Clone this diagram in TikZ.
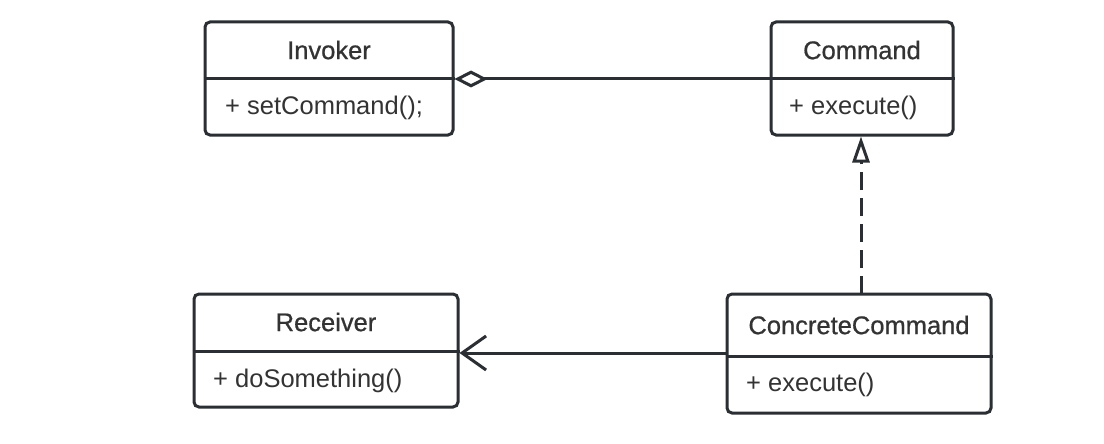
\documentclass[tikz,border=0pt]{standalone}
\usepackage{fontspec}
\setmainfont{Liberation Sans}
\newfontfamily\medfont[FakeBold=0.7]{Liberation Sans}
\usetikzlibrary{arrows.meta}
\definecolor{ink}{HTML}{2B2F33}
\definecolor{txt}{HTML}{333333}
\tikzset{
  classbox/.style={draw=ink, line width=3pt, rounded corners=5pt, fill=white, inner sep=0pt},
  divider/.style={draw=ink, line width=3pt},
  title/.style={text=txt, font=\medfont\fontsize{25.5}{30}\selectfont, inner sep=0pt},
  member/.style={text=txt, font=\fontsize{25.5}{30}\selectfont, inner sep=0pt, anchor=west},
  conn/.style={draw=ink, line width=3pt},
}
\begin{document}
\begin{tikzpicture}[x=1pt,y=-1pt]
\useasboundingbox (0,0) rectangle (1104,444);
\fill[white] (0,0) rectangle (1104,444);

% Invoker
\node[classbox, minimum width=248pt, minimum height=113pt] (inv) at (329,78.5) {};
\draw[divider] (inv.west |- 0,79) coordinate (invdl) -- (inv.east |- 0,79) coordinate (invdr);
\node[title] (invt) at (329,50) {Invoker};
\node[member] (invm) at (225,108) {+ setCommand();};

% Command
\node[classbox, minimum width=182pt, minimum height=113pt] (cmd) at (862,78.5) {};
\draw[divider] (cmd.west |- 0,79) coordinate (cmddl) -- (cmd.east |- 0,79) coordinate (cmddr);
\node[title] (cmdt) at (862,50) {Command};
\node[member] (cmdm) at (789,108) {+ execute()};

% Receiver
\node[classbox, minimum width=264pt, minimum height=113pt] (rec) at (326,350.5) {};
\draw[divider] (rec.west |- 0,351) coordinate (recdl) -- (rec.east |- 0,351) coordinate (recdr);
\node[title] (rect) at (326,322) {Receiver};
\node[member] (recm) at (213,381) {+ doSomething()};

% ConcreteCommand
\node[classbox, minimum width=264pt, minimum height=119pt] (cc) at (859,353.5) {};
\draw[divider] (cc.west |- 0,356) coordinate (ccdl) -- (cc.east |- 0,356) coordinate (ccdr);
\node[title] (cct) at (859,325) {ConcreteCommand};
\node[member] (ccm) at (746,385) {+ execute()};

% Aggregation Invoker <>-- Command
\draw[conn, {Diamond[open, length=33pt, width=17pt, line width=3pt, fill=white]}-] (invdr) -- (cmddl);

% Realization ConcreteCommand - -|> Command
\coordinate (ccup) at (861,294);
\draw[conn, dash pattern=on 18pt off 8pt, -{Triangle[open, length=26pt, width=17pt, line width=3pt, fill=white]}] (ccup) -- (ccup |- cmd.south);

% Association ConcreteCommand --> Receiver
\draw[conn, -{Straight Barb[length=24pt, width=34pt, line width=3pt]}] (cc.west |- 0,353) -- (rec.east |- 0,353);
\end{tikzpicture}
\end{document}
